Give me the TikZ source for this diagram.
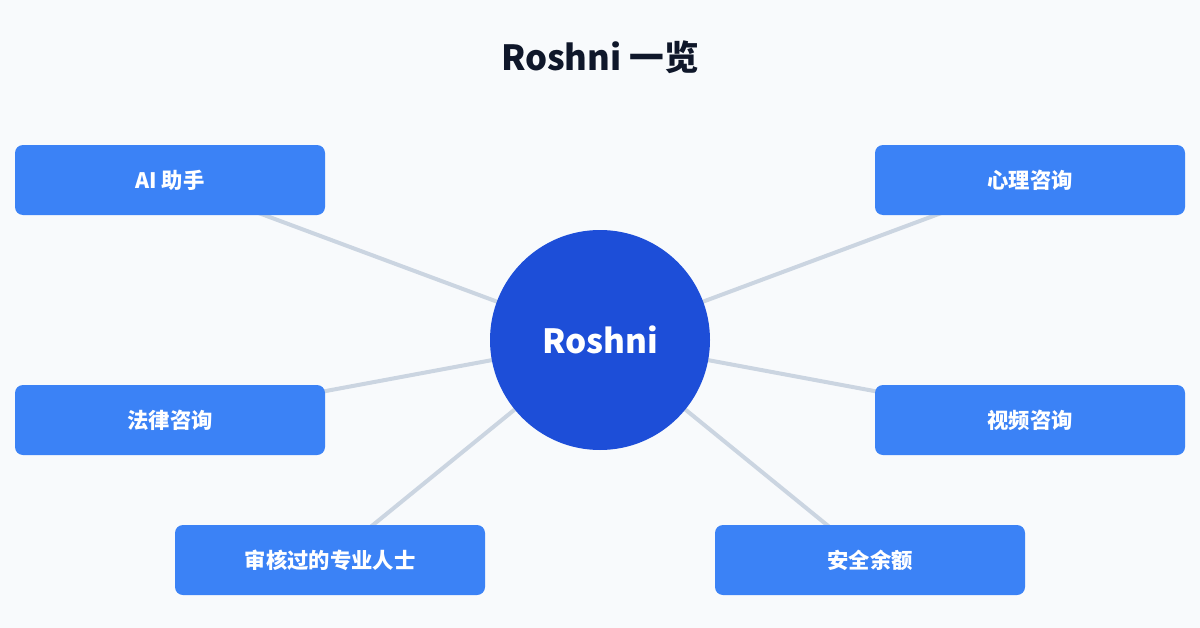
\documentclass[tikz,border=0pt]{standalone}
\usepackage{fontspec}
\setmainfont{Noto Sans CJK SC}
\usepackage{tikz}
\definecolor{bgcol}{HTML}{F8FAFC}
\definecolor{hubcol}{HTML}{1D4ED8}
\definecolor{boxcol}{HTML}{3B82F6}
\definecolor{linkcol}{HTML}{CBD5E1}
\definecolor{titlecol}{HTML}{0F172A}
\begin{document}
\begin{tikzpicture}[x = 0.75pt, y = -0.75pt,
                    hub/.style = {circle, fill = hubcol, text = white, minimum size = 165pt, inner sep = 0pt, font = \fontsize{25}{30}\selectfont\bfseries},
                    item/.style = {rounded corners = 6pt, fill = boxcol, text = white, minimum width = 232.5pt, minimum height = 52.5pt, inner sep = 0pt, font = \fontsize{16}{20}\selectfont\bfseries},
                    link/.style = {draw = linkcol, line width = 3pt}]
  \fill [bgcol] (0,0) rectangle (1200,628);
  \useasboundingbox (0,0) rectangle (1200,628);
  \node [font = \fontsize{26}{32}\selectfont\bfseries, text = titlecol] (title) at (600,57) {Roshni 一览};
  \coordinate (C) at (600,340);
  \coordinate (A1) at (170,180);
  \coordinate (A2) at (1030,180);
  \coordinate (A3) at (170,420);
  \coordinate (A4) at (1030,420);
  \coordinate (A5) at (330,560);
  \coordinate (A6) at (870,560);
  \draw [link] (C)--(A1);
  \draw [link] (C)--(A2);
  \draw [link] (C)--(A3);
  \draw [link] (C)--(A4);
  \draw [link] (C)--(A5);
  \draw [link] (C)--(A6);
  \node [item] (ai) at (A1) {AI 助手};
  \node [item] (psy) at (A2) {心理咨询};
  \node [item] (law) at (A3) {法律咨询};
  \node [item] (video) at (A4) {视频咨询};
  \node [item] (pro) at (A5) {审核过的专业人士};
  \node [item] (safe) at (A6) {安全余额};
  \node [hub] (roshni) at (C) {Roshni};
\end{tikzpicture}
\end{document}
